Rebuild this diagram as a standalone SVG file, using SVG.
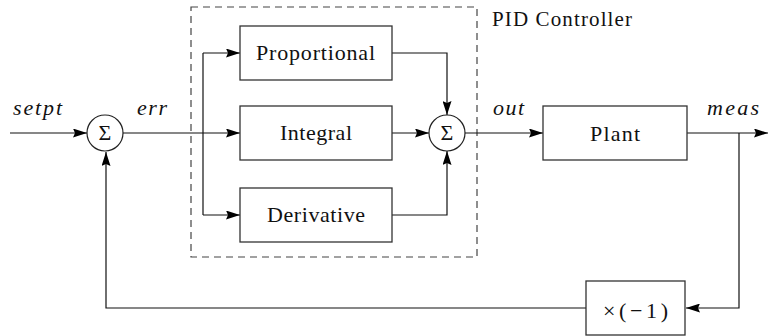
<svg xmlns="http://www.w3.org/2000/svg" width="768" height="336" viewBox="0 0 768 336">
<defs>
<style>
.box{fill:#fff;stroke:#333;stroke-width:1.3}
.sum{fill:#fff;stroke:#222;stroke-width:1.2}
.wire{fill:none;stroke:#111;stroke-width:1.2}
.frame{fill:none;stroke:#444;stroke-width:1.2;stroke-dasharray:7,5}
</style>
<marker id="arr" markerUnits="userSpaceOnUse" markerWidth="14" markerHeight="9" refX="14" refY="4.5" orient="auto">
<path d="M0,0 L14,4.5 L0,9 L2,4.5 z" fill="#000"/>
</marker>
</defs>
<rect width="768" height="336" fill="#fff"/>
<g id="pid-frame">
<rect class="frame" x="191" y="7" width="286" height="250"/>
<text x="492" y="26" style="font-family:'Liberation Serif',serif !important;font-size:21px" fill="#111" textLength="140" lengthAdjust="spacing">PID Controller</text>
</g>
<g id="connectors">
<path class="wire" d="M10,133 H87" marker-end="url(#arr)"/>
<path class="wire" d="M123,133 H240" marker-end="url(#arr)"/>
<path class="wire" d="M203,53 V215"/>
<path class="wire" d="M203,53 H240" marker-end="url(#arr)"/>
<path class="wire" d="M203,215 H240" marker-end="url(#arr)"/>
<path class="wire" d="M392,53 H447 V115" marker-end="url(#arr)"/>
<path class="wire" d="M392,133 H429" marker-end="url(#arr)"/>
<path class="wire" d="M392,215 H447 V151" marker-end="url(#arr)"/>
<path class="wire" d="M465,133 H543" marker-end="url(#arr)"/>
<path class="wire" d="M687,133 H768" marker-end="url(#arr)"/>
<path class="wire" d="M739,133 V308 H686" marker-end="url(#arr)"/>
<path class="wire" d="M586,308 H106 V152" marker-end="url(#arr)"/>
<text x="13" y="115" style="font-family:'Liberation Serif',serif !important;font-size:22px;font-style:italic" fill="#111" textLength="49" lengthAdjust="spacing">setpt</text>
<text x="137" y="115" style="font-family:'Liberation Serif',serif !important;font-size:22px;font-style:italic" fill="#111" textLength="30" lengthAdjust="spacing">err</text>
<text x="493" y="115" style="font-family:'Liberation Serif',serif !important;font-size:22px;font-style:italic" fill="#111" textLength="31" lengthAdjust="spacing">out</text>
<text x="707" y="115" style="font-family:'Liberation Serif',serif !important;font-size:22px;font-style:italic" fill="#111" textLength="52" lengthAdjust="spacing">meas</text>
</g>
<g id="sum1">
<circle class="sum" cx="105" cy="133" r="18"/>
<text x="105" y="140" style="font-family:'Liberation Serif',serif !important;font-size:22px" fill="#111" text-anchor="middle">Σ</text>
</g>
<g id="proportional">
<rect class="box" x="240" y="26" width="152" height="54"/>
<text x="256" y="60" style="font-family:'Liberation Serif',serif !important;font-size:22px" fill="#111" textLength="119" lengthAdjust="spacing">Proportional</text>
</g>
<g id="integral">
<rect class="box" x="240" y="106" width="152" height="54"/>
<text x="280" y="140" style="font-family:'Liberation Serif',serif !important;font-size:22px" fill="#111" textLength="72" lengthAdjust="spacing">Integral</text>
</g>
<g id="derivative">
<rect class="box" x="240" y="188" width="152" height="54"/>
<text x="267" y="222" style="font-family:'Liberation Serif',serif !important;font-size:22px" fill="#111" textLength="98" lengthAdjust="spacing">Derivative</text>
</g>
<g id="sum2">
<circle class="sum" cx="447" cy="133" r="18"/>
<text x="447" y="140" style="font-family:'Liberation Serif',serif !important;font-size:22px" fill="#111" text-anchor="middle">Σ</text>
</g>
<g id="plant">
<rect class="box" x="543" y="106" width="144" height="54"/>
<text x="590" y="141" style="font-family:'Liberation Serif',serif !important;font-size:22px" fill="#111" textLength="50" lengthAdjust="spacing">Plant</text>
</g>
<g id="negate">
<rect class="box" x="586" y="281" width="99" height="54"/>
<text x="603" y="318" style="font-family:'Liberation Serif',serif !important;font-size:22px" fill="#111" textLength="65" lengthAdjust="spacing">×(−1)</text>
</g>
</svg>
